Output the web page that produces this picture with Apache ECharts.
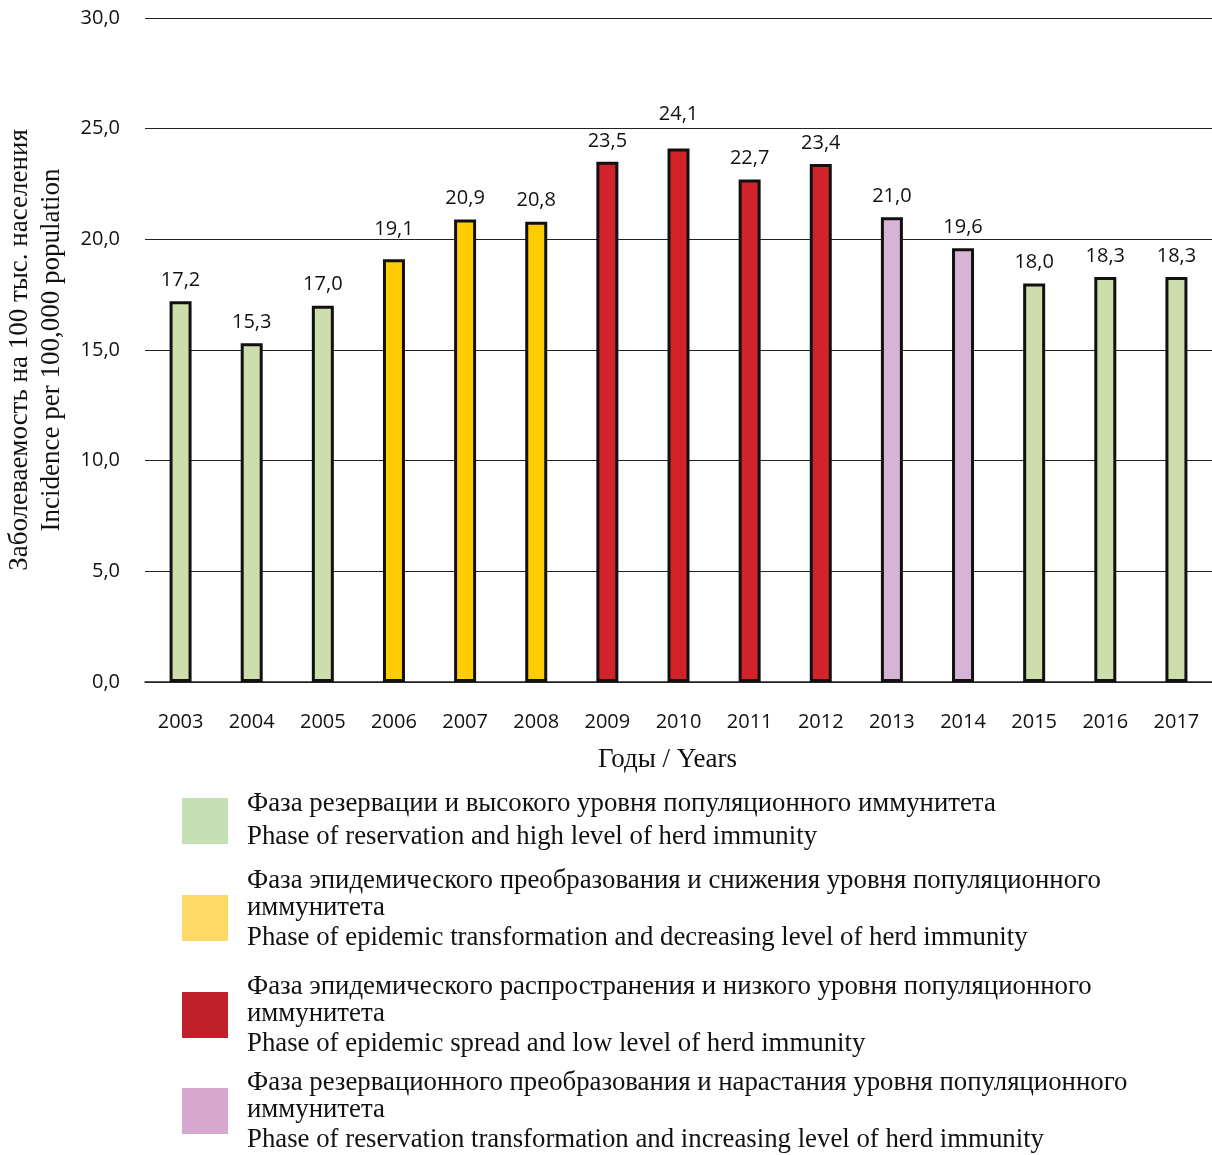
<!DOCTYPE html>
<html>
<head>
<meta charset="utf-8">
<script src="https://cdn.jsdelivr.net/npm/echarts@6/dist/echarts.min.js"></script>
<style>
  html, body { margin: 0; padding: 0; background: #fff; }
  #chart { width: 1212px; height: 1155px; }
</style>
</head>
<body>
<div id="chart"></div>
<script>
// данные
var years = ['2003', '2004', '2005', '2006', '2007', '2008', '2009', '2010', '2011', '2012', '2013', '2014', '2015', '2016', '2017'];
var incidence = [17.2, 15.3, 17.0, 19.1, 20.9, 20.8, 23.5, 24.1, 22.7, 23.4, 21.0, 19.6, 18.0, 18.3, 18.3];
// 0 - резервация, 1 - эпид. преобразование, 2 - эпид. распространение, 3 - резерв. преобразование
var phase = [0, 0, 0, 1, 1, 1, 2, 2, 2, 2, 3, 3, 0, 0, 0];
var barColors = ['#CDDDAC', '#FFCC00', '#D0232A', '#D7B3D6'];
var legendColors = ['#C5E0B4', '#FFD966', '#C0202A', '#D5A6CE'];
var legendLines = [
  ['Фаза резервации и высокого уровня популяционного иммунитета',
   'Phase of reservation and high level of herd immunity'],
  ['Фаза эпидемического преобразования и снижения уровня популяционного',
   'иммунитета',
   'Phase of epidemic transformation and decreasing level of herd immunity'],
  ['Фаза эпидемического распространения и низкого уровня популяционного',
   'иммунитета',
   'Phase of epidemic spread and low level of herd immunity'],
  ['Фаза резервационного преобразования и нарастания уровня популяционного',
   'иммунитета',
   'Phase of reservation transformation and increasing level of herd immunity']
];
// верх первой строки и квадрата для каждого пункта легенды
var legendTextTop = [804, 881, 987, 1083];
var legendBoxTop = [798, 895, 992, 1088];

function fmt(v) {
  return v.toFixed(1).replace('.', ',');
}

var myChart = echarts.init(document.getElementById('chart'));

var barData = [];
for (var i = 0; i < incidence.length; i++) {
  var item = {
    value: incidence[i],
    itemStyle: { color: barColors[phase[i]] }
  };
  // подписи, которые в оригинале подняты над линией сетки
  if (years[i] == '2006') item.label = { offset: [0, -9] };
  if (years[i] == '2010') item.label = { offset: [0, -13] };
  barData.push(item);
}

var graphics = [];
for (var j = 0; j < legendLines.length; j++) {
  graphics.push({
    type: 'rect',
    left: 182,
    top: legendBoxTop[j],
    shape: { width: 46, height: 46 },
    style: { fill: legendColors[j] }
  });
  var lines = legendLines[j];
  for (var k = 0; k < lines.length; k++) {
    var dy;
    if (lines.length == 2) dy = k * 33;
    else dy = k == 0 ? 0 : (k == 1 ? 27 : 57);
    graphics.push({
      type: 'text',
      left: 247,
      top: legendTextTop[j] + dy - 14,
      style: {
        text: lines[k],
        font: '26.8px "Liberation Serif", "Times New Roman", serif',
        fill: '#111'
      }
    });
  }
}

var option = {
  animation: false,
  grid: { left: 145, right: 0, top: 18, bottom: 473, outerBoundsMode: 'none' },
  xAxis: {
    type: 'category',
    data: years,
    name: 'Годы / Years',
    nameLocation: 'middle',
    nameGap: 64,
    nameTextStyle: { fontFamily: '"Liberation Serif", serif', fontSize: 27, color: '#111', padding: [0, 22, 0, 0] },
    axisLine: { lineStyle: { color: '#222', width: 1.5 } },
    axisTick: { show: false },
    axisLabel: { fontFamily: '"Open Sans", sans-serif', fontSize: 20, color: '#111', margin: 30 }
  },
  yAxis: {
    type: 'value',
    min: 0,
    max: 30,
    interval: 5,
    name: 'Заболеваемость на 100 тыс. населения\nIncidence per 100,000 population',
    nameLocation: 'middle',
    nameGap: 77,
    nameTextStyle: { fontFamily: '"Liberation Serif", serif', fontSize: 27, color: '#111', lineHeight: 32 },
    axisLine: { show: false },
    axisTick: { show: false },
    axisLabel: { fontFamily: '"Open Sans", sans-serif', fontSize: 20, color: '#111', margin: 25, formatter: fmt },
    splitLine: { lineStyle: { color: '#222', width: 1.2 } }
  },
  series: [
    {
      type: 'bar',
      data: barData,
      barWidth: 22,
      itemStyle: { borderColor: '#111', borderWidth: 3 },
      label: {
        show: true,
        position: 'top',
        distance: 11,
        fontFamily: '"Open Sans", sans-serif',
        fontSize: 20,
        color: '#111',
        formatter: function (p) { return fmt(p.value); }
      }
    }
  ],
  graphic: graphics
};
myChart.setOption(option);
</script>
</body>
</html>
